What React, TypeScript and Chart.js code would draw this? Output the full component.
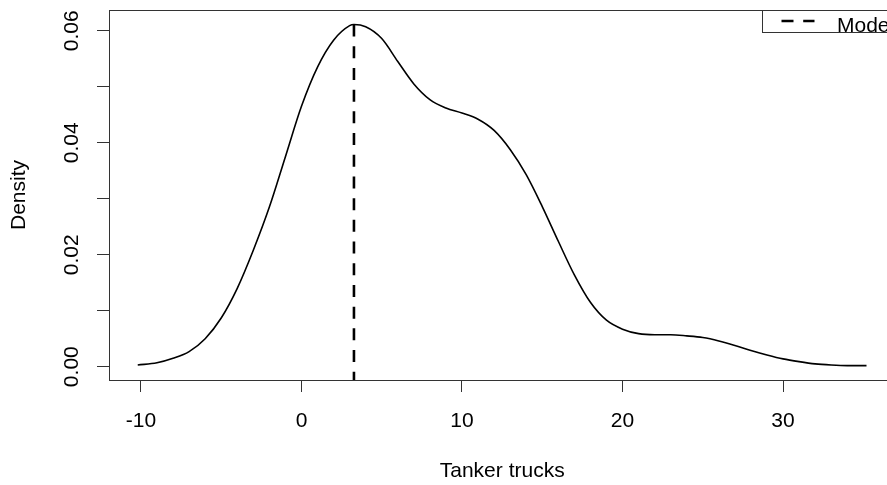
import React, { useEffect, useRef } from 'react';
import { Chart, registerables } from 'chart.js';

Chart.register(...registerables);

// Kernel density estimate of tanker trucks
const X_VALUES = [
  -10.2, -9, -8, -7, -6, -5, -4, -3, -2, -1, 0, 1, 2, 3, 3.27, 4, 5, 6, 7, 8, 9, 10,
  11, 12, 13, 14, 15, 16, 17, 18, 19, 20, 21, 22, 23, 24, 25, 26, 27, 28, 29, 30,
  31, 32, 33, 34, 35.2,
];
const DENSITY = [
  0.0003, 0.0007, 0.0015, 0.0027, 0.005, 0.0087, 0.014, 0.0208, 0.0285, 0.0375,
  0.0465, 0.0535, 0.0583, 0.0609, 0.0611, 0.0607, 0.0586, 0.0545, 0.0505, 0.0477,
  0.0462, 0.0453, 0.0442, 0.0422, 0.0388, 0.0343, 0.0286, 0.0224, 0.0164, 0.0115,
  0.0083, 0.0067, 0.0059, 0.0057, 0.0057, 0.0055, 0.0052, 0.0046, 0.0038, 0.0029,
  0.0021, 0.0014, 0.0009, 0.0005, 0.0003, 0.0002, 0.0002,
];
const MODE_X = 3.27;
const MODE_PEAK = 0.0611;

const X_TICKS = [-10, 0, 10, 20, 30];
const X_TICK_LABELS = ['-10', '0', '10', '20', '30'];
const Y_TICKS = [0, 0.01, 0.02, 0.03, 0.04, 0.05, 0.06];
const Y_TICK_LABELS = ['0.00', '', '0.02', '', '0.04', '', '0.06'];
const X_TITLE = 'Tanker trucks';
const Y_TITLE = 'Density';
const LEGEND_LABEL = 'Mode';

const X_MIN = -11.99;
const X_MAX = 37.0;
const Y_MIN = -0.002375;
const Y_MAX = 0.0637;

const FONT_FAMILY = '"Liberation Sans", Arial, sans-serif';
const FONT_SIZE = 21;
const AXIS_COLOR = '#333333';
const DASH = [12, 9.7];

const framePlugin = {
  id: 'rFrame',
  afterDraw(chart: any) {
    const { ctx, chartArea } = chart;
    const l = Math.floor(chartArea.left) + 0.5;
    const t = Math.floor(chartArea.top) + 0.5;
    const r = Math.floor(chartArea.right) + 0.5;
    const b = Math.floor(chartArea.bottom) + 0.5;
    ctx.save();
    ctx.strokeStyle = AXIS_COLOR;
    ctx.lineWidth = 1;
    ctx.strokeRect(l, t, r - l, b - t);

    // legend (top-right, as R's legend())
    const boxLeft = Math.round(chartArea.right - 133.7) + 0.5;
    const boxTop = t;
    const boxH = 22;
    ctx.fillStyle = '#ffffff';
    ctx.fillRect(boxLeft, boxTop, r - boxLeft, boxH);
    ctx.strokeRect(boxLeft, boxTop, r - boxLeft, boxH);
    ctx.strokeStyle = '#000000';
    ctx.lineWidth = 2.6;
    ctx.setLineDash(DASH);
    ctx.beginPath();
    ctx.moveTo(boxLeft + 19, boxTop + 10.5);
    ctx.lineTo(boxLeft + 52, boxTop + 10.5);
    ctx.stroke();
    ctx.setLineDash([]);
    ctx.fillStyle = '#000000';
    ctx.font = `${FONT_SIZE}px ${FONT_FAMILY}`;
    ctx.textBaseline = 'alphabetic';
    ctx.textAlign = 'left';
    ctx.fillText(LEGEND_LABEL, boxLeft + 74.5, boxTop + 21);
    ctx.restore();
  },
};

export default function App() {
  const canvasRef = useRef<HTMLCanvasElement | null>(null);

  useEffect(() => {
    const canvas = canvasRef.current;
    if (!canvas) return;
    const font = { family: FONT_FAMILY, size: FONT_SIZE };
    const chart = new Chart(canvas, {
      type: 'line',
      data: {
        datasets: [
          {
            label: 'density',
            data: X_VALUES.map((x, i) => ({ x, y: DENSITY[i] })),
            borderColor: '#000000',
            borderWidth: 1.6,
            pointRadius: 0,
            fill: false,
            cubicInterpolationMode: 'monotone',
          },
          {
            label: LEGEND_LABEL,
            data: [
              { x: MODE_X, y: MODE_PEAK },
              { x: MODE_X, y: Y_MIN },
            ],
            borderColor: '#000000',
            borderWidth: 2.6,
            borderDash: DASH,
            pointRadius: 0,
            fill: false,
            tension: 0,
          },
        ],
      },
      options: {
        animation: false,
        responsive: false,
        maintainAspectRatio: false,
        devicePixelRatio: 1,
        layout: { padding: { top: 10, right: 4.6, left: 0, bottom: 0 } },
        plugins: {
          legend: { display: false },
          tooltip: { enabled: false },
        },
        scales: {
          x: {
            type: 'linear',
            min: X_MIN,
            max: X_MAX,
            afterBuildTicks: (s: any) => {
              s.ticks = X_TICKS.map((v) => ({ value: v }));
            },
            afterFit: (s: any) => {
              s.height = 105;
              s.paddingLeft = 0;
              s.paddingRight = 0;
              s.paddingTop = 0;
              s.paddingBottom = 0;
            },
            grid: { drawOnChartArea: false, drawTicks: true, tickLength: 12, color: AXIS_COLOR, lineWidth: 1 },
            border: { display: false },
            ticks: {
              autoSkip: false,
              maxRotation: 0,
              minRotation: 0,
              padding: 16.4,
              color: '#000000',
              font,
              callback: (_v: any, i: number) => X_TICK_LABELS[i],
            },
            title: {
              display: true,
              text: X_TITLE,
              color: '#000000',
              font,
              padding: { top: 0, bottom: 1.4 },
            },
          },
          y: {
            type: 'linear',
            min: Y_MIN,
            max: Y_MAX,
            afterBuildTicks: (s: any) => {
              s.ticks = Y_TICKS.map((v) => ({ value: v }));
            },
            afterFit: (s: any) => {
              s.width = 109;
              s.paddingLeft = 0;
              s.paddingRight = 0;
              s.paddingTop = 0;
              s.paddingBottom = 0;
            },
            grid: { drawOnChartArea: false, drawTicks: true, tickLength: 12, color: AXIS_COLOR, lineWidth: 1 },
            border: { display: false },
            ticks: {
              autoSkip: false,
              minRotation: 90,
              maxRotation: 90,
              crossAlign: 'center',
              padding: 4.8,
              color: '#000000',
              font,
              callback: (_v: any, i: number) => Y_TICK_LABELS[i],
            },
            title: {
              display: true,
              text: Y_TITLE,
              color: '#000000',
              font,
              padding: { top: 6.9, bottom: 0 },
            },
          },
        },
      },
      plugins: [framePlugin],
    } as any);
    return () => chart.destroy();
  }, []);

  return (
    <div
      style={{
        position: 'fixed',
        left: 0,
        top: 0,
        width: 887,
        height: 485,
        overflow: 'hidden',
        background: '#ffffff',
      }}
    >
      <canvas ref={canvasRef} width={900} height={485} style={{ display: 'block', width: 900, height: 485 }} />
    </div>
  );
}
